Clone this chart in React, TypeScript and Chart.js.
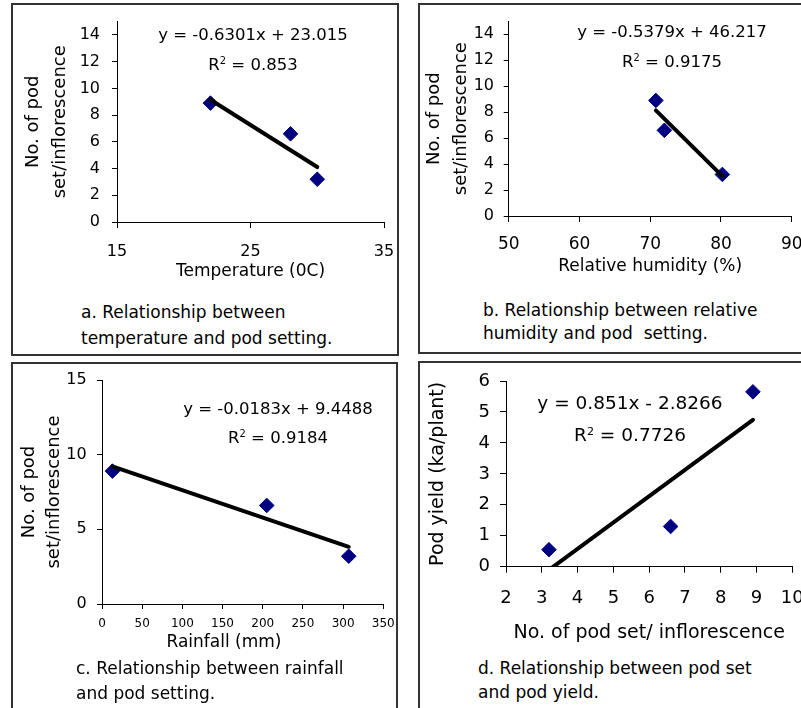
import React, { useEffect, useRef } from 'react';
import { Chart, registerables } from 'chart.js';

Chart.register(...registerables);

const FONT = "'DejaVu Sans', 'Liberation Sans', sans-serif";

// ---------------- data ----------------
const podSet = [8.9, 6.6, 3.2];
const temperature = [22, 28, 30];
const humidity = [70.8, 72, 80.2];
const rainfall = [13, 205, 307];
const podYield = [5.65, 1.3, 0.55];

// regression lines as printed on the chart
const trendTemp = { slope: -0.6301, intercept: 23.015 };
const trendHum = { slope: -0.5379, intercept: 46.217 };
const trendRain = { slope: -0.0183, intercept: 9.4488 };
const trendYield = { slope: 0.851, intercept: -2.8266 };

// tick labels
const tempTicks = [15, 25, 35];
const humTicks = [50, 60, 70, 80, 90];
const rainTicks = [0, 50, 100, 150, 200, 250, 300, 350];
const podSetTicks = [2, 3, 4, 5, 6, 7, 8, 9, 10];
const podTicksAB = [0, 2, 4, 6, 8, 10, 12, 14];
const podTicksC = [0, 5, 10, 15];
const yieldTicks = [0, 1, 2, 3, 4, 5, 6];

// texts
const eqTemp = 'y = -0.6301x + 23.015';
const r2Temp = '0.853';
const eqHum = 'y = -0.5379x + 46.217';
const r2Hum = '0.9175';
const eqRain = 'y = -0.0183x + 9.4488';
const r2Rain = '0.9184';
const eqYield = 'y = 0.851x - 2.8266';
const r2Yield = '0.7726';

const podTitle = ['No. of pod', 'set/inflorescence'];

const pairs = (xs: number[], ys: number[]) => xs.map((x, i) => ({ x, y: ys[i] }));
const trendSegment = (xs: number[], t: { slope: number; intercept: number }) => {
  const lo = Math.min(...xs);
  const hi = Math.max(...xs);
  return [
    { x: lo, y: t.slope * lo + t.intercept },
    { x: hi, y: t.slope * hi + t.intercept },
  ];
};

type AxisSpec = {
  min: number;
  max: number;
  ticks: number[];
  tickSize: number;
  tickLen: number;
  tickPad: number;
  title?: string | string[];
  titleSize?: number;
  titleLH?: number;
  titleCenter?: number;
};
type PanelSpec = {
  canvas: { L: number; T: number; W: number; H: number };
  area: { l: number; t: number; r: number; b: number };
  x: AxisSpec;
  y: AxisSpec;
  points: { x: number; y: number }[];
  trend: { x: number; y: number }[];
};

const panels: PanelSpec[] = [
  {
    canvas: { L: 13, T: 5, W: 384, H: 295 },
    area: { l: 117, t: 21.6, r: 384, b: 222 },
    x: { min: 15, max: 35, ticks: tempTicks, tickSize: 16, tickLen: 6, tickPad: 14.4, title: 'Temperature (0C)', titleSize: 17, titleLH: 1.2, titleCenter: 272 },
    y: { min: 0, max: 15, ticks: podTicksAB, tickSize: 16, tickLen: 5, tickPad: 12, title: podTitle, titleSize: 18, titleLH: 1.5, titleCenter: 33 },
    points: pairs(temperature, podSet),
    trend: trendSegment(temperature, trendTemp),
  },
  {
    canvas: { L: 420, T: 5, W: 381, H: 280 },
    area: { l: 508.7, t: 21.3, r: 791.7, b: 216 },
    x: { min: 50, max: 90, ticks: humTicks, tickSize: 17, tickLen: 6, tickPad: 12.8, title: 'Relative humidity (%)', titleSize: 17, titleLH: 1.2, titleCenter: 267 },
    y: { min: 0, max: 15, ticks: podTicksAB, tickSize: 16, tickLen: 5, tickPad: 9.7, title: podTitle, titleSize: 18, titleLH: 1.47, titleCenter: 434.5 },
    points: pairs(humidity, podSet),
    trend: trendSegment(humidity, trendHum),
  },
  {
    canvas: { L: 13, T: 364, W: 383, H: 290 },
    area: { l: 102, t: 380, r: 383.3, b: 604 },
    x: { min: 0, max: 350, ticks: rainTicks, tickSize: 12, tickLen: 5, tickPad: 7.8 },
    y: { min: 0, max: 15, ticks: podTicksC, tickSize: 16, tickLen: 5, tickPad: 10.3, title: podTitle, titleSize: 18, titleLH: 1.39, titleCenter: 29 },
    points: pairs(rainfall, podSet),
    trend: trendSegment(rainfall, trendRain),
  },
  {
    canvas: { L: 420, T: 363, W: 381, H: 285 },
    area: { l: 506, t: 381, r: 792.3, b: 566.7 },
    x: { min: 2, max: 10, ticks: podSetTicks, tickSize: 18, tickLen: 6, tickPad: 14.5, title: 'No. of pod set/ inflorescence', titleSize: 19, titleLH: 1.2, titleCenter: 633 },
    y: { min: 0, max: 6, ticks: yieldTicks, tickSize: 18, tickLen: 6, tickPad: 10, title: 'Pod yield (ka/plant)', titleSize: 19, titleLH: 1.2, titleCenter: 438 },
    points: pairs(podSet, podYield),
    trend: trendSegment(podSet, trendYield),
  },
];

function ChartPanel({ spec }: { spec: PanelSpec }) {
  const ref = useRef<HTMLCanvasElement>(null);
  const c = spec.canvas;
  useEffect(() => {
    const a = spec.area;
    const x = spec.x;
    const y = spec.y;
    const yWidth = a.l - c.L;
    const xHeight = c.T + c.H - a.b;
    const xTitleLh = (x.titleSize || 17) * (x.titleLH || 1.2);
    const yTitleLh = (y.titleSize || 18) * (y.titleLH || 1.2);
    const chart = new Chart(ref.current as HTMLCanvasElement, {
      type: 'scatter',
      data: {
        datasets: [
          {
            data: spec.trend,
            showLine: true,
            pointRadius: 0,
            pointHoverRadius: 0,
            borderColor: '#000',
            backgroundColor: '#000',
            borderWidth: 4,
            borderCapStyle: 'round',
            order: 0,
          } as any,
          {
            data: spec.points,
            pointStyle: 'rectRot',
            pointRadius: 7.3,
            pointHoverRadius: 7.3,
            backgroundColor: '#000080',
            borderColor: '#000080',
            borderWidth: 1,
            order: 1,
          } as any,
        ],
      },
      options: {
        responsive: false,
        animation: false,
        devicePixelRatio: 1,
        events: [],
        layout: {
          autoPadding: false,
          padding: { left: 0, top: a.t - c.T, right: c.L + c.W - a.r, bottom: 0 },
        } as any,
        plugins: { legend: { display: false }, tooltip: { enabled: false } },
        scales: {
          x: {
            type: 'linear',
            position: 'bottom',
            min: x.min,
            max: x.max,
            afterBuildTicks: (s: any) => {
              s.ticks = x.ticks.map((v) => ({ value: v }));
            },
            afterFit: (s: any) => {
              s.height = xHeight;
              s.paddingLeft = 0;
              s.paddingRight = 0;
              s.paddingTop = 0;
              s.paddingBottom = 0;
            },
            grid: { display: true, drawOnChartArea: false, drawTicks: true, tickLength: x.tickLen, color: '#000', lineWidth: 1 },
            border: { display: true, color: '#000', width: 1 },
            ticks: { color: '#000', font: { family: FONT, size: x.tickSize }, padding: x.tickPad, maxRotation: 0, minRotation: 0, autoSkip: false },
            title: x.title
              ? {
                  display: true,
                  text: x.title,
                  color: '#000',
                  font: { family: FONT, size: x.titleSize, lineHeight: x.titleLH },
                  padding: { top: 0, bottom: c.T + c.H - xTitleLh / 2 - (x.titleCenter as number) },
                }
              : { display: false },
          } as any,
          y: {
            type: 'linear',
            position: 'left',
            min: y.min,
            max: y.max,
            afterBuildTicks: (s: any) => {
              s.ticks = y.ticks.map((v) => ({ value: v }));
            },
            afterFit: (s: any) => {
              s.width = yWidth;
              s.paddingLeft = 0;
              s.paddingRight = 0;
              s.paddingTop = 0;
              s.paddingBottom = 0;
            },
            grid: { display: true, drawOnChartArea: false, drawTicks: true, tickLength: y.tickLen, color: '#000', lineWidth: 1 },
            border: { display: true, color: '#000', width: 1 },
            ticks: { color: '#000', font: { family: FONT, size: y.tickSize }, padding: y.tickPad, autoSkip: false },
            title: y.title
              ? {
                  display: true,
                  text: y.title,
                  color: '#000',
                  font: { family: FONT, size: y.titleSize, lineHeight: y.titleLH },
                  padding: { top: (y.titleCenter as number) - c.L - yTitleLh / 2, bottom: 0 },
                }
              : { display: false },
          } as any,
        },
      },
    });
    return () => chart.destroy();
  }, [spec]);
  return (
    <canvas
      ref={ref}
      width={c.W}
      height={c.H}
      style={{ position: 'absolute', left: c.L, top: c.T, width: c.W, height: c.H }}
    />
  );
}

function Txt({ x, y, size, align = 'center', children }: { x: number; y: number; size: number; align?: 'center' | 'left'; children: React.ReactNode }) {
  return (
    <div
      style={{
        position: 'absolute',
        left: x,
        top: y,
        transform: align === 'center' ? 'translate(-50%, -50%)' : 'translateY(-50%)',
        fontSize: size,
        lineHeight: 1,
        whiteSpace: 'pre',
        fontFamily: FONT,
        color: '#000',
      }}
    >
      {children}
    </div>
  );
}

function R2({ x, y, size, value }: { x: number; y: number; size: number; value: string }) {
  return (
    <Txt x={x} y={y} size={size}>
      R<span style={{ fontSize: '0.6em', position: 'relative', top: '-0.58em' }}>2</span> = {value}
    </Txt>
  );
}

function Box({ left, top, width, height }: { left: number; top: number; width: number; height: number }) {
  return (
    <div
      style={{
        position: 'absolute',
        left,
        top,
        width,
        height,
        border: '2px solid #333',
        boxSizing: 'border-box',
      }}
    />
  );
}

export default function App() {
  return (
    <div
      style={{
        position: 'fixed',
        left: 0,
        top: 0,
        width: 801,
        height: 708,
        overflow: 'hidden',
        background: '#fff',
        fontFamily: FONT,
      }}
    >
      <Box left={11} top={3} width={388} height={353} />
      <Box left={418} top={3} width={400} height={351} />
      <Box left={11} top={362} width={387} height={400} />
      <Box left={418} top={361} width={400} height={400} />

      {panels.map((p, i) => (
        <ChartPanel key={i} spec={p} />
      ))}

      {/* panel a */}
      <Txt x={253} y={35} size={16.5}>{eqTemp}</Txt>
      <R2 x={253} y={65} size={16.5} value={r2Temp} />
      <Txt x={81} y={312} size={17} align="left">a. Relationship between</Txt>
      <Txt x={81} y={338} size={17} align="left">temperature and pod setting.</Txt>

      {/* panel b */}
      <Txt x={672} y={32} size={16.5}>{eqHum}</Txt>
      <R2 x={672} y={62} size={16.5} value={r2Hum} />
      <Txt x={483} y={310} size={17} align="left">b. Relationship between relative</Txt>
      <Txt x={483} y={333} size={17} align="left">humidity and pod  setting.</Txt>

      {/* panel c */}
      <Txt x={278} y={409} size={16.5}>{eqRain}</Txt>
      <R2 x={278} y={438} size={16.5} value={r2Rain} />
      <Txt x={224} y={641} size={17}>Rainfall (mm)</Txt>
      <Txt x={76} y={668} size={17} align="left">c. Relationship between rainfall</Txt>
      <Txt x={76} y={693} size={17} align="left">and pod setting.</Txt>

      {/* panel d */}
      <Txt x={630} y={403} size={18.5}>{eqYield}</Txt>
      <R2 x={630} y={435} size={18.5} value={r2Yield} />
      <Txt x={478} y={668} size={17} align="left">d. Relationship between pod set</Txt>
      <Txt x={478} y={692} size={17} align="left">and pod yield.</Txt>
    </div>
  );
}
